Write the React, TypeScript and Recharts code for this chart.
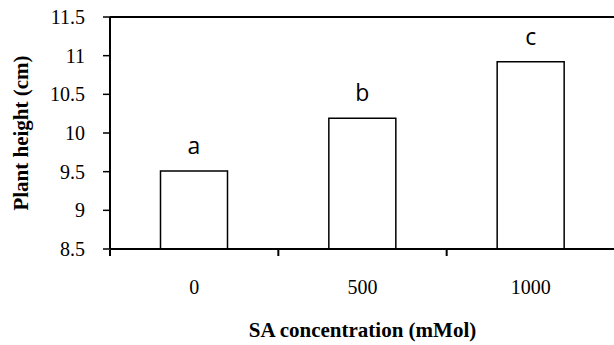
import { Bar, BarChart, LabelList, ReferenceLine, XAxis, YAxis } from "recharts";

const concentrations = ["0", "500", "1000"];
const plantHeight = [9.51, 10.19, 10.92];
const groupLetters = ["a", "b", "c"];
const yTicks = [8.5, 9, 9.5, 10, 10.5, 11, 11.5];

const data = concentrations.map((conc, i) => ({
  conc,
  height: plantHeight[i],
  letter: groupLetters[i],
}));

const serif = "'Liberation Serif', 'Times New Roman', serif";
const sans = "'Open Sans', 'Noto Sans', sans-serif";

function CategoryTick(props: any) {
  const { x, y, payload, width, visibleTicksCount } = props;
  const band = width / (visibleTicksCount || concentrations.length);
  const axisY = y - 7;
  return (
    <g>
      <line x1={x - band / 2} x2={x - band / 2} y1={axisY} y2={axisY + 6} stroke="#000" strokeWidth={2} />
      <text x={x} y={y} dy={37} textAnchor="middle" fontFamily={serif} fontSize={20} fill="#000">
        {payload.value}
      </text>
    </g>
  );
}

function HeightTick(props: any) {
  const { x, y, payload } = props;
  return (
    <text x={x} y={y} dy={7} textAnchor="end" fontFamily={serif} fontSize={20} fill="#000">
      {payload.value}
    </text>
  );
}

function YTitle(props: any) {
  const { viewBox } = props;
  const cx = viewBox.x + 21;
  const cy = viewBox.y + viewBox.height / 2;
  return (
    <text
      x={cx}
      y={cy}
      transform={`rotate(-90, ${cx}, ${cy})`}
      textAnchor="middle"
      dominantBaseline="central"
      fontFamily={serif}
      fontWeight="bold"
      fontSize={21}
      fill="#000"
    >
      Plant height (cm)
    </text>
  );
}

export default function App() {
  return (
    <div
      style={{
        position: "absolute",
        left: 0,
        top: 0,
        width: 614,
        height: 345,
        overflow: "hidden",
        background: "#fff",
        fontFamily: serif,
      }}
    >
      <BarChart
        width={616}
        height={345}
        data={data}
        margin={{ top: 17, right: 1, left: 0, bottom: 0 }}
        barCategoryGap="30%"
      >
        <XAxis
          dataKey="conc"
          height={96}
          tickLine={false}
          axisLine={{ stroke: "#000", strokeWidth: 2 }}
          tick={<CategoryTick />}
          interval={0}
          label={{
            value: "SA concentration (mMol)",
            position: "insideBottom",
            offset: 8,
            style: { fontFamily: serif, fontWeight: "bold", fontSize: 21, fill: "#000" },
          }}
        />
        <YAxis
          width={110}
          domain={[8.5, 11.5]}
          ticks={yTicks}
          interval={0}
          tickSize={7}
          tickMargin={18}
          axisLine={{ stroke: "#000", strokeWidth: 2 }}
          tickLine={{ stroke: "#000", strokeWidth: 1.5 }}
          tick={<HeightTick />}
          allowDataOverflow
          label={<YTitle />}
        />
        <ReferenceLine y={11.5} stroke="#000" strokeWidth={2} />
        <Bar dataKey="height" fill="#fff" stroke="#000" strokeWidth={1.5} isAnimationActive={false}>
          <LabelList
            dataKey="letter"
            position="top"
            offset={17}
            style={{ fontFamily: sans, fontSize: 23, fill: "#000" }}
          />
        </Bar>
      </BarChart>
    </div>
  );
}
